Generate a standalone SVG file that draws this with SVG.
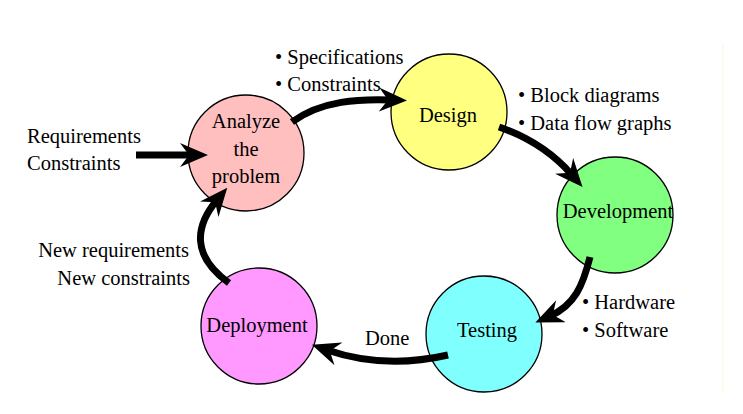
<svg xmlns="http://www.w3.org/2000/svg" width="743" height="414" viewBox="0 0 743 414">
<defs>
<style>
text{font-family:"Liberation Serif","Times New Roman",serif;font-size:20.5px;fill:#000}
.c{stroke:#000;stroke-width:1.3}
.lbl{text-anchor:middle}
.r{text-anchor:end}
.arr{fill:none;stroke:#000;stroke-width:7;marker-end:url(#ah)}
</style>
<marker id="ah" viewBox="0 0 28 24" refX="12" refY="12" markerWidth="28" markerHeight="24" markerUnits="userSpaceOnUse" orient="auto">
<path d="M0,0 L28,12 L0,24 L9,12 Z" fill="#000"/>
</marker>
</defs>
<rect width="743" height="414" fill="#fff"/>
<line x1="723" y1="43" x2="723" y2="393" stroke="#fcf7d6" stroke-width="1"/>

<g id="analyze">
<circle class="c" cx="246" cy="153" r="58" fill="#ffbfbf"/>
<text class="lbl" x="246" y="128">Analyze</text>
<text class="lbl" x="246" y="156">the</text>
<text class="lbl" x="246" y="183">problem</text>
</g>
<g id="design">
<circle class="c" cx="449" cy="112" r="58" fill="#ffff80"/>
<text class="lbl" x="448" y="122">Design</text>
</g>
<g id="development">
<circle class="c" cx="615" cy="215" r="58" fill="#80ff80"/>
<text class="lbl" x="618" y="218">Development</text>
</g>
<g id="testing">
<circle class="c" cx="484" cy="334" r="58" fill="#80ffff"/>
<text class="lbl" x="487" y="337">Testing</text>
</g>
<g id="deployment">
<circle class="c" cx="259" cy="326" r="58" fill="#ff99ff"/>
<text class="lbl" x="257" y="332">Deployment</text>
</g>

<g id="labels">
<text x="27" y="143">Requirements</text>
<text x="27" y="170">Constraints</text>
<text x="275" y="64">• Specifications</text>
<text x="275" y="91">• Constraints</text>
<text x="518" y="102">• Block diagrams</text>
<text x="518" y="130">• Data flow graphs</text>
<text x="582" y="309">• Hardware</text>
<text x="582" y="337">• Software</text>
<text x="365" y="345">Done</text>
<text class="r" x="189" y="257">New requirements</text>
<text class="r" x="190" y="285">New constraints</text>
</g>

<g id="connectors">
<path class="arr" d="M136,155 L192,155"/>
<path class="arr" d="M292,122 C322,100 360,99 391,100"/>
<path class="arr" d="M499,127 C528,137 552,152 572,175"/>
<path class="arr" d="M590,257 C583,285 575,305 550,316"/>
<path class="arr" d="M448,355 C400,366 362,362 327,350"/>
<path class="arr" d="M229,283 C190,255 196,225 217,200"/>
</g>
</svg>
